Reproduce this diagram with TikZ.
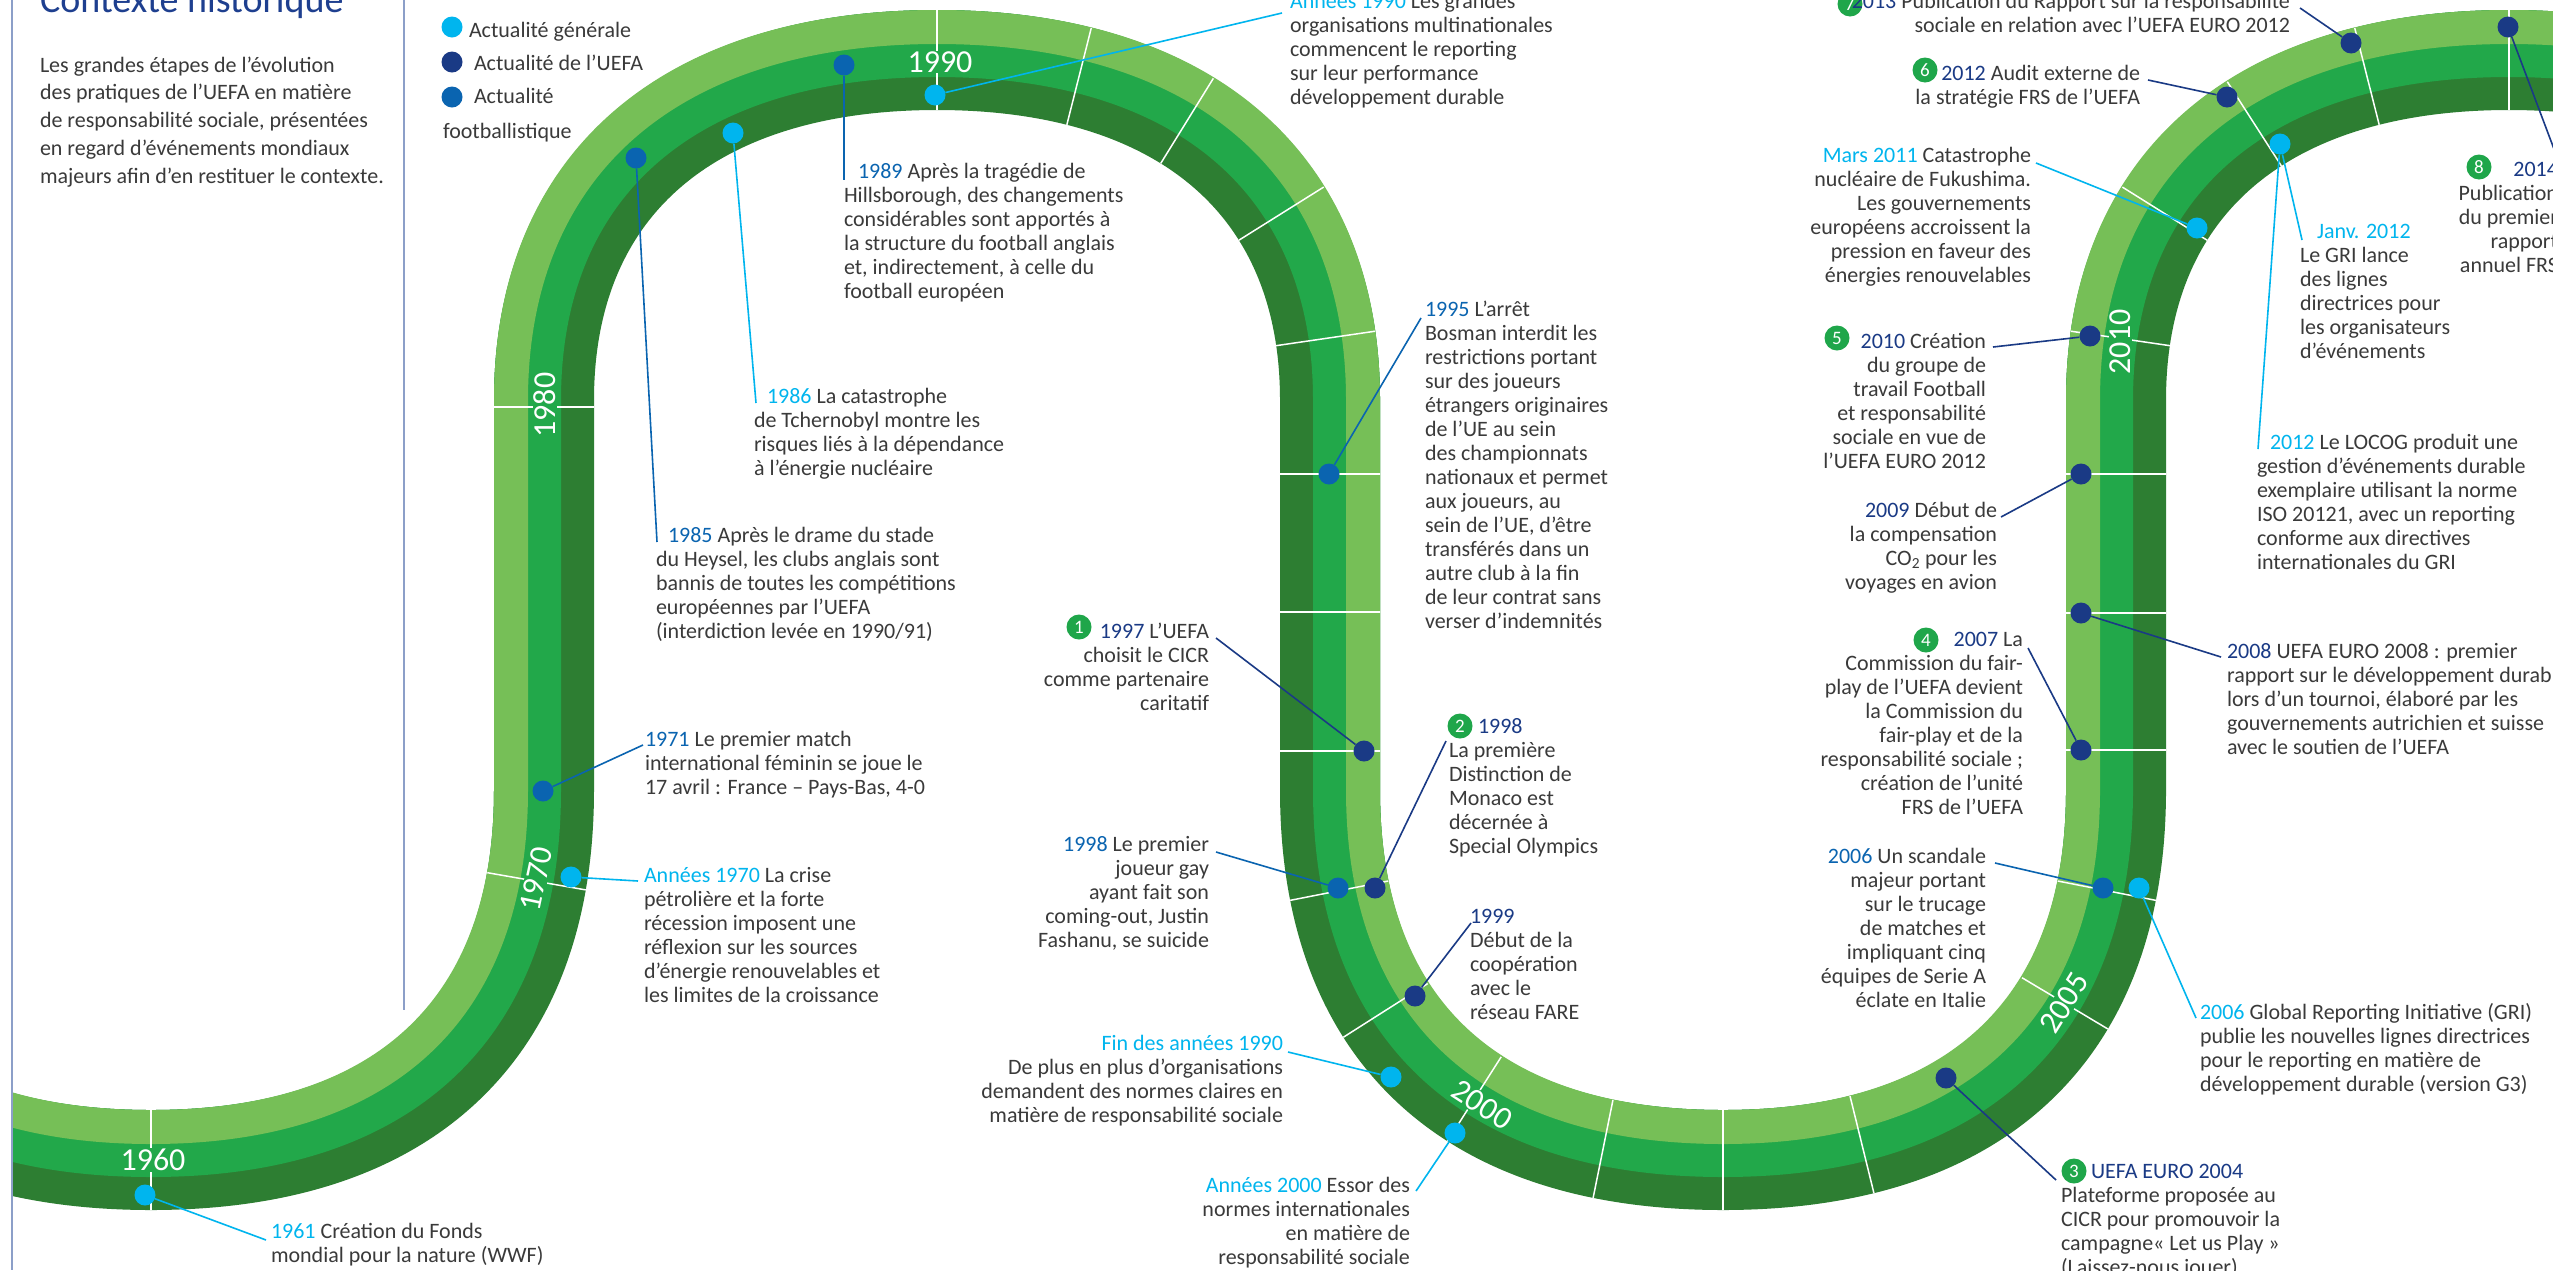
\documentclass[tikz,border=0pt]{standalone}
\usepackage{fontspec}
\setmainfont{Carlito}
\usepackage{xcolor}
\definecolor{lightg}{HTML}{76BF57}
\definecolor{midg}{HTML}{22A84A}
\definecolor{darkg}{HTML}{2D7E32}
\definecolor{gen}{HTML}{00B5EE}
\definecolor{uefa}{HTML}{1A3A85}
\definecolor{foot}{HTML}{0A64B0}
\definecolor{txtc}{HTML}{3A3A3A}
\definecolor{titc}{HTML}{1E3F8F}
\definecolor{framec}{HTML}{8C9FC8}
\definecolor{badgeg}{HTML}{1FA64A}
\newcommand\fl{\rule{0pt}{20pt}}
\begin{document}
\begin{tikzpicture}[x=1pt,y=-1pt,
  txt/.style={font=\fontsize{22}{24}\selectfont, text=txtc, inner sep=0pt, outer sep=0pt},
  tl/.style={txt, align=left, anchor=north west},
  tr/.style={txt, align=right, anchor=north east},
  dot/.style={circle, inner sep=0pt, minimum size=21pt},
  badge/.style={circle, fill=badgeg, text=white, inner sep=0pt, minimum size=25pt, font=\fontsize{19}{19}\selectfont},
  yr/.style={text=white, fill=midg, inner sep=1pt, font=\fontsize{32}{32}\selectfont},
  tk/.style={sloped, draw=white, line width=1.5pt, inner sep=0pt, minimum width=0pt, minimum height=100pt},
  con/.style={line width=1.6pt}]
\useasboundingbox (0,0) rectangle (2553,1270);
\fill[white] (0,0) rectangle (2553,1270);

% ---------- serpentine band ----------
\begin{scope}
\clip (12,0) rectangle (2553,1270);
\foreach \d/\w/\c in {0/100/darkg, 16.5/67/midg, 33/34/lightg} {
  \pgfmathsetmacro\va{393-\d}
  \pgfmathsetmacro\vb{370-\d}
  \pgfmathsetmacro\aa{393+\d}
  \pgfmathsetmacro\ab{340+\d}
  \pgfmathsetmacro\vka{0.65*\va}
  \pgfmathsetmacro\vkb{0.65*\vb}
  \pgfmathsetmacro\aka{0.63*\aa}
  \pgfmathsetmacro\akb{0.63*\ab}
  \draw[\c, line width=\w pt]
    (151-\va, 790) .. controls (151-\va, 790+\vkb) and (151-\vka, 790+\vb) .. (151, 790+\vb)
    .. controls (151+\vka, 790+\vb) and (151+\va, 790+\vkb) .. (151+\va, 790)
    -- (937-\aa, 400) .. controls (937-\aa, 400-\akb) and (937-\aka, 400-\ab) .. (937, 400-\ab)
    .. controls (937+\aka, 400-\ab) and (937+\aa, 400-\akb) .. (937+\aa, 400)
    -- (1723-\va, 790) .. controls (1723-\va, 790+\vkb) and (1723-\vka, 790+\vb) .. (1723, 790+\vb)
    .. controls (1723+\vka, 790+\vb) and (1723+\va, 790+\vkb) .. (1723+\va, 790)
    -- (2509-\aa, 400) .. controls (2509-\aa, 400-\akb) and (2509-\aka, 400-\ab) .. (2509, 400-\ab)
    .. controls (2509+\aka, 400-\ab) and (2509+\aa, 400-\akb) .. (2509+\aa, 400)
    -- (2509+\aa, 900);
}
% ticks
\path (151,1160) .. controls (406.45,1160) and (544,1030.5) .. (544,790)
    node[tk,pos=0] (k1) {} node[tk,pos=0.865] (k2) {}
  -- (544,400) node[tk,pos=0.982] (k3) {};
\path (937,60) .. controls (1184.6,60) and (1330,185.8) .. (1330,400)
    node[tk,pos=0] (k4) {} node[tk,pos=0.21] (k5) {} node[tk,pos=0.41] (k6) {}
    node[tk,pos=0.66] (k7) {} node[tk,pos=0.9] (k8) {}
  -- (1330,790) node[tk,pos=0.19] (k9) {} node[tk,pos=0.544] (k10) {} node[tk,pos=0.9] (k11) {}
  .. controls (1330,1030.5) and (1467.55,1160) .. (1723,1160)
    node[tk,pos=0.15] (k12) {} node[tk,pos=0.37] (k13) {} node[tk,pos=0.6] (k14) {}
    node[tk,pos=0.83] (k15) {} node[tk,pos=1] (k16) {}
  .. controls (1978.45,1160) and (2116,1030.5) .. (2116,790)
    node[tk,pos=0.2] (k17) {} node[tk,pos=0.645] (k18) {} node[tk,pos=0.85] (k19) {}
  -- (2116,400) node[tk,pos=0.103] (k20) {} node[tk,pos=0.454] (k21) {} node[tk,pos=0.81] (k22) {}
  .. controls (2116,185.8) and (2261.4,60) .. (2509,60)
    node[tk,pos=0.1] (k23) {} node[tk,pos=0.34] (k24) {} node[tk,pos=0.58] (k25) {}
    node[tk,pos=0.79] (k26) {} node[tk,pos=1] (k27) {};
% year labels
\node[yr] (y1960) at (153,1160) {1960};
\node[yr, rotate=78] (y1970) at (536,879) {1970};
\node[yr, rotate=90] (y1980) at (545,405) {1980};
\node[yr] (y1990) at (940,62) {1990};
\node[yr, rotate=-33] (y2000) at (1482,1105) {2000};
\node[yr, rotate=58] (y2005) at (2064,1003) {2005};
\node[yr, rotate=90] (y2010) at (2120,342) {2010};
\end{scope}

% ---------- frame ----------
\draw[framec, line width=2pt] (12,0) -- (12,1270);
\draw[framec, line width=2pt] (404,0) -- (404,1010);

% ---------- title and intro ----------
\node[anchor=base west, inner sep=0pt, text=titc, font=\fontsize{38}{40}\selectfont] (title) at (40,12) {Contexte historique};
\node[tl, font=\fontsize{22}{27.8}\selectfont] (para) at (40,52) {\fl Les grandes étapes de l’évolution\\des pratiques de l’UEFA en matière\\de responsabilité sociale, présentées\\en regard d’événements mondiaux\\majeurs afin d’en restituer le contexte.};

% ---------- legend ----------
\node[dot, fill=gen] (lg1) at (452,27) {};
\node[dot, fill=uefa] (lg2) at (452,62) {};
\node[dot, fill=foot] (lg3) at (452,97) {};
\node[tl] (lt1) at (469,17) {\fl Actualité générale};
\node[tl] (lt2) at (474,50) {\fl Actualité de l'UEFA};
\node[tl] (lt3) at (474,83) {\fl Actualité};
\node[tl] (lt4) at (443,118) {\fl footballistique};

% ---------- dots ----------
\node[dot, fill=gen]  (d1961)  at (145,1195) {};
\node[dot, fill=gen]  (d1970s) at (571,877) {};
\node[dot, fill=foot] (d1971)  at (543,791) {};
\node[dot, fill=foot] (d1985)  at (636,158) {};
\node[dot, fill=gen]  (d1986)  at (733,133) {};
\node[dot, fill=foot] (d1989)  at (844,65) {};
\node[dot, fill=gen]  (d1990s) at (935,95) {};
\node[dot, fill=foot] (d1995)  at (1329,474) {};
\node[dot, fill=uefa] (d1997)  at (1364,751) {};
\node[dot, fill=foot] (d1998f) at (1338,888) {};
\node[dot, fill=uefa] (d1998u) at (1375,888) {};
\node[dot, fill=uefa] (d1999)  at (1415,996) {};
\node[dot, fill=gen]  (dfin90) at (1391,1077) {};
\node[dot, fill=gen]  (d2000s) at (1455,1133) {};
\node[dot, fill=uefa] (d2004)  at (1946,1078) {};
\node[dot, fill=foot] (d2006f) at (2103,888) {};
\node[dot, fill=gen]  (d2006g) at (2139,888) {};
\node[dot, fill=uefa] (d2007)  at (2081,750) {};
\node[dot, fill=uefa] (d2008)  at (2081,613) {};
\node[dot, fill=uefa] (d2009)  at (2081,474) {};
\node[dot, fill=uefa] (d2010)  at (2090,336) {};
\node[dot, fill=gen]  (dmars)  at (2197,228) {};
\node[dot, fill=uefa] (d2012a) at (2227,97) {};
\node[dot, fill=gen]  (djanv)  at (2280,144) {};
\node[dot, fill=uefa] (d2013)  at (2351,43) {};
\node[dot, fill=uefa] (d2014)  at (2508,27) {};

% ---------- connector ends ----------
\coordinate (c1961) at (266,1240);
\coordinate (c1970s) at (638,881);
\coordinate (c1971) at (643,745);
\coordinate (c1985) at (657,542);
\coordinate (c1986) at (756,403);
\coordinate (c1989) at (844,180);
\coordinate (c1990s) at (1282,13);
\coordinate (c1995) at (1421,318);
\coordinate (c1997) at (1216,638);
\coordinate (c1998f) at (1216,852);
\coordinate (c1998u) at (1446,741);
\coordinate (c1999) at (1471,923);
\coordinate (cfin90) at (1288,1052);
\coordinate (c2000s) at (1416,1191);
\coordinate (c2004) at (2056,1180);
\coordinate (c2006f) at (1995,863);
\coordinate (c2006g) at (2196,1018);
\coordinate (c2007) at (2028,648);
\coordinate (c2008) at (2221,657);
\coordinate (c2009) at (2001,517);
\coordinate (c2010) at (1993,347);
\coordinate (cmars) at (2036,163);
\coordinate (c2012a) at (2148,80);
\coordinate (c2013) at (2300,8);
\coordinate (cjanv) at (2302,240);
\coordinate (clocog) at (2258,449);
\coordinate (c2014) at (2560,165);

% ---------- connectors ----------
\begin{scope}[on background layer/.style={}]
\draw[con, gen]  (d1961) -- (c1961);
\draw[con, gen]  (d1970s) -- (c1970s);
\draw[con, foot] (d1971) -- (c1971);
\draw[con, foot] (d1985) -- (c1985);
\draw[con, gen]  (d1986) -- (c1986);
\draw[con, foot] (d1989) -- (c1989);
\draw[con, gen]  (d1990s) -- (c1990s);
\draw[con, foot] (d1995) -- (c1995);
\draw[con, uefa] (d1997) -- (c1997);
\draw[con, foot] (d1998f) -- (c1998f);
\draw[con, uefa] (d1998u) -- (c1998u);
\draw[con, uefa] (d1999) -- (c1999);
\draw[con, gen]  (dfin90) -- (cfin90);
\draw[con, gen]  (d2000s) -- (c2000s);
\draw[con, uefa] (d2004) -- (c2004);
\draw[con, foot] (d2006f) -- (c2006f);
\draw[con, gen]  (d2006g) -- (c2006g);
\draw[con, uefa] (d2007) -- (c2007);
\draw[con, uefa] (d2008) -- (c2008);
\draw[con, uefa] (d2009) -- (c2009);
\draw[con, uefa] (d2010) -- (c2010);
\draw[con, gen]  (dmars) -- (cmars);
\draw[con, uefa] (d2012a) -- (c2012a);
\draw[con, uefa] (d2013) -- (c2013);
\draw[con, gen]  (djanv) -- (cjanv);
\draw[con, gen]  (djanv) -- (clocog);
\draw[con, uefa] (d2014) -- (c2014);
\end{scope}

% ---------- badges ----------
\node[badge] (b1) at (1079,627) {1};
\node[badge] (b2) at (1460,726) {2};
\node[badge] (b3) at (2074,1171) {3};
\node[badge] (b4) at (1926,640) {4};
\node[badge] (b5) at (1837,338) {5};
\node[badge] (b6) at (1925,70) {6};
\node[badge] (b7) at (1850,4) {7};
\node[badge] (b8) at (2479,167) {8};

% ---------- texts ----------
\node[tl] (t1961) at (271,1218) {\fl{\color{gen}1961} Création du Fonds\\mondial pour la nature (WWF)};
\node[tl] (t1970s) at (644,862) {\fl{\color{gen}Années 1970} La crise\\pétrolière et la forte\\récession imposent une\\réflexion sur les sources\\d’énergie renouvelables et\\les limites de la croissance};
\node[tl] (t1971) at (645,726) {\fl{\color{foot}1971} Le premier match\\international féminin se joue le\\17 avril : France – Pays-Bas, 4-0};
\node[tl] (t1985) at (656,522) {\fl\hspace*{12pt}{\color{foot}1985} Après le drame du stade\\du Heysel, les clubs anglais sont\\bannis de toutes les compétitions\\européennes par l’UEFA\\(interdiction levée en 1990/91)};
\node[tl] (t1986) at (754,383) {\fl\hspace*{13pt}{\color{gen}1986} La catastrophe\\de Tchernobyl montre les\\risques liés à la dépendance\\à l’énergie nucléaire};
\node[tl] (t1989) at (844,158) {\fl\hspace*{14pt}{\color{foot}1989} Après la tragédie de\\Hillsborough, des changements\\considérables sont apportés à\\la structure du football anglais\\et, indirectement, à celle du\\football européen};
\node[tl] (t1990s) at (1290,-12) {\fl{\color{gen}Années 1990} Les grandes\\organisations multinationales\\commencent le reporting\\sur leur performance\\développement durable};
\node[tl] (t1995) at (1425,296) {\fl{\color{foot}1995} L'arrêt\\Bosman interdit les\\restrictions portant\\sur des joueurs\\étrangers originaires\\de l'UE au sein\\des championnats\\nationaux et permet\\aux joueurs, au\\sein de l'UE, d'être\\transférés dans un\\autre club à la fin\\de leur contrat sans\\verser d'indemnités};
\node[tr] (t1997) at (1209,618) {\fl{\color{uefa}1997} L’UEFA\\choisit le CICR\\comme partenaire\\caritatif};
\node[tr] (t1998f) at (1209,831) {\fl{\color{foot}1998} Le premier\\joueur gay\\ayant fait son\\coming-out, Justin\\Fashanu, se suicide};
\node[tl] (t1998u) at (1449,713) {\fl\hspace*{29pt}{\color{uefa}1998}\\La première\\Distinction de\\Monaco est\\décernée à\\Special Olympics};
\node[tl] (t1999) at (1470,903) {\fl{\color{uefa}1999}\\Début de la\\coopération\\avec le\\réseau FARE};
\node[tr] (tfin90) at (1283,1030) {\fl{\color{gen}Fin des années 1990}\\De plus en plus d’organisations\\demandent des normes claires en\\matière de responsabilité sociale};
\node[tr] (t2000s) at (1410,1172) {\fl{\color{gen}Années 2000} Essor des\\normes internationales\\en matière de\\responsabilité sociale};
\node[tl] (t2004) at (2061,1158) {\fl\hspace*{30pt}{\color{uefa}UEFA EURO 2004}\\Plateforme proposée au\\CICR pour promouvoir la\\campagne« Let us Play »\\(Laissez-nous jouer)};
\node[tr] (t2006f) at (1986,843) {\fl{\color{foot}2006} Un scandale\\majeur portant\\sur le trucage\\de matches et\\impliquant cinq\\équipes de Serie A\\éclate en Italie};
\node[tl] (t2006g) at (2200,999) {\fl{\color{gen}2006} Global Reporting Initiative (GRI)\\publie les nouvelles lignes directrices\\pour le reporting en matière de\\développement durable (version G3)};
\node[tr] (t2007) at (2023,626) {\fl{\color{uefa}2007} La\\Commission du fair-\\play de l’UEFA devient\\la Commission du\\fair-play et de la\\responsabilité sociale ;\\création de l’unité\\FRS de l’UEFA};
\node[tl] (t2008) at (2227,638) {\fl{\color{uefa}2008} UEFA EURO 2008 : premier\\rapport sur le développement durable\\lors d’un tournoi, élaboré par les\\gouvernements autrichien et suisse\\avec le soutien de l’UEFA};
\node[tr] (t2009) at (1997,497) {\fl{\color{uefa}2009} Début de\\la compensation\\CO\textsubscript{2} pour les\\voyages en avion};
\node[tr] (t2010) at (1986,328) {\fl{\color{uefa}2010} Création\\du groupe de\\travail Football\\et responsabilité\\sociale en vue de\\l’UEFA EURO 2012};
\node[tr] (tmars) at (2031,142) {\fl{\color{gen}Mars 2011} Catastrophe\\nucléaire de Fukushima.\\Les gouvernements\\européens accroissent la\\pression en faveur des\\énergies renouvelables};
\node[tr] (t2012a) at (2140,60) {\fl{\color{uefa}2012} Audit externe de\\la stratégie FRS de l’UEFA};
\node[tr] (t2013) at (2290,-12) {\fl{\color{uefa}2013} Publication du Rapport sur la responsabilité\\sociale en relation avec l’UEFA EURO 2012};
\node[tl] (tjanv) at (2300,218) {\fl\hspace*{17pt}{\color{gen}Janv. 2012}\\Le GRI lance\\des lignes\\directrices pour\\les organisateurs\\d’événements};
\node[tl] (tlocog) at (2257,429) {\fl\hspace*{13pt}{\color{gen}2012} Le LOCOG produit une\\gestion d’événements durable\\exemplaire utilisant la norme\\ISO 20121, avec un reporting\\conforme aux directives\\internationales du GRI};
\node[tr] (t2014) at (2558,156) {\fl{\color{uefa}2014}\\Publication\\du premier\\rapport\\annuel FRS};
\end{tikzpicture}
\end{document}
